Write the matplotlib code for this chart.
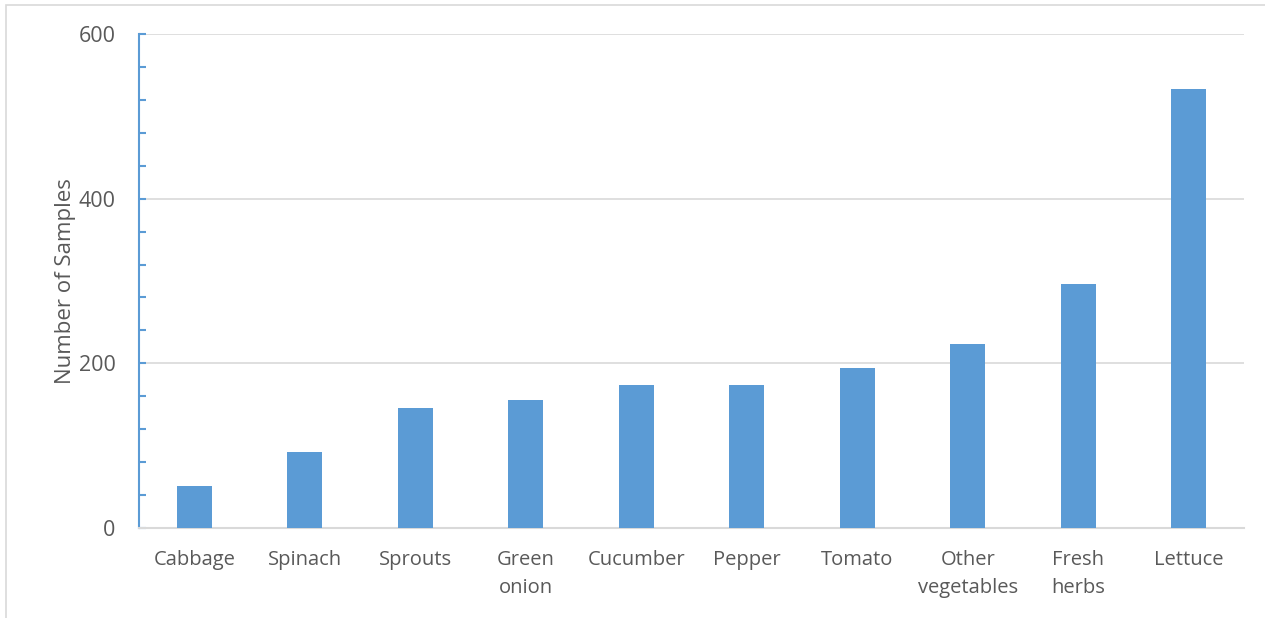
import matplotlib.pyplot as plt
from matplotlib.patches import Rectangle
import numpy as np

categories = ['Cabbage', 'Spinach', 'Sprouts', 'Green\nonion', 'Cucumber', 'Pepper',
              'Tomato', 'Other\nvegetables', 'Fresh\nherbs', 'Lettuce']
samples = [51, 92, 146, 155, 174, 174, 194, 223, 296, 533]

plt.rcParams['font.family'] = ['Open Sans', 'DejaVu Sans']
text_color = '#595959'
bar_color = '#5b9bd5'

fig = plt.figure(figsize=(12.65, 6.18), dpi=100)
ax = fig.add_axes([139 / 1265, 90 / 618, 1105 / 1265, 494 / 618])

# outer chart border
fig.patches.append(Rectangle((6 / 1265, -0.05), 1.1, 1 - 5 / 618 + 0.05,
                             transform=fig.transFigure, fill=False,
                             edgecolor='#d9d9d9', linewidth=1.2))

x = np.arange(len(categories))
ax.bar(x, samples, width=0.32, color=bar_color, zorder=3)

ax.set_xlim(-0.5, len(categories) - 0.5)
ax.set_ylim(0, 600)
ax.set_yticks([0, 200, 400, 600])
ax.set_yticks(np.arange(0, 601, 40), minor=True)
ax.yaxis.grid(True, color='#d9d9d9', linewidth=1.2, zorder=0)
ax.set_xticks(x)
ax.set_xticklabels(categories, fontsize=14.5, color=text_color, linespacing=1.5)
ax.tick_params(axis='x', length=0, pad=16)
ax.tick_params(axis='y', which='major', direction='in', length=5, width=1.5, color=bar_color,
               labelsize=15.5, labelcolor=text_color, pad=17)
ax.tick_params(axis='y', which='minor', direction='in', length=5, width=1.5, color=bar_color)

for s in ['top', 'right']:
    ax.spines[s].set_visible(False)
ax.spines['left'].set_color(bar_color)
ax.spines['left'].set_linewidth(1.5)
ax.spines['bottom'].set_color('#d9d9d9')
ax.spines['bottom'].set_linewidth(1.5)

ax.set_ylabel('Number of Samples', fontsize=16, color=text_color, labelpad=2)

fig.savefig('out.png', dpi=100)
